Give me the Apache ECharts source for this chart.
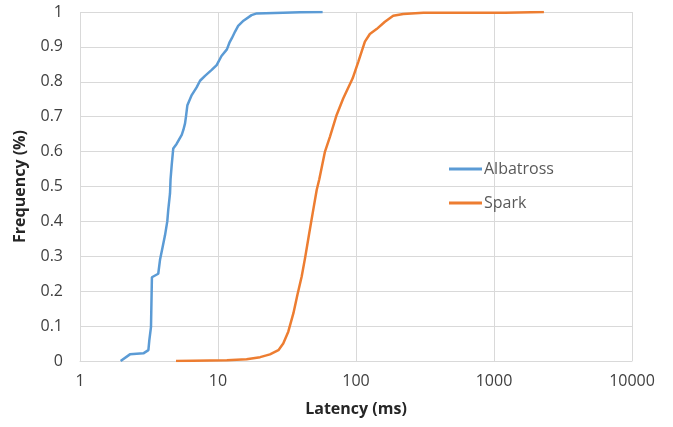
<!DOCTYPE html>
<html>
<head>
<meta charset="utf-8">
<script src="https://cdn.jsdelivr.net/npm/echarts@6/dist/echarts.min.js"></script>
<style>html,body{margin:0;padding:0;background:#fff}#c{width:673px;height:427px}</style>
</head>
<body>
<div id="c"></div>
<script>
var seriesNames = ['Albatross', 'Spark'];
var albatrossLatency = [1.97, 2.30, 2.88, 3.13, 3.18, 3.27, 3.30, 3.32, 3.69, 3.80, 3.97, 4.13, 4.29, 4.36, 4.49, 4.53, 4.62, 4.74, 5.01, 5.46, 5.61, 5.77, 5.86, 6.0, 6.45, 7.0, 7.41, 8.05, 9.0, 9.78, 10.6, 11.6, 12.1, 12.6, 13.3, 14.0, 15.3, 17.5, 19.1, 29.7, 39.3, 57.3];
var albatrossFreq = [0, 0.019, 0.022, 0.031, 0.06, 0.098, 0.098, 0.24, 0.25, 0.29, 0.327, 0.36, 0.40, 0.433, 0.48, 0.52, 0.562, 0.609, 0.622, 0.648, 0.662, 0.681, 0.70, 0.733, 0.762, 0.784, 0.803, 0.817, 0.834, 0.848, 0.874, 0.893, 0.912, 0.925, 0.944, 0.960, 0.975, 0.991, 0.996, 0.998, 0.999, 1.0];
var sparkLatency = [4.96, 11.6, 16.1, 20.2, 23.8, 27.4, 29.7, 32.3, 35.2, 37.6, 40.4, 42.7, 45.6, 48.5, 51.9, 54.2, 59.6, 64.8, 72.4, 80.9, 94.6, 104, 116, 126, 141, 162, 186, 220, 308, 1200, 1205, 2300];
var sparkFreq = [0, 0.002, 0.005, 0.011, 0.019, 0.031, 0.05, 0.084, 0.137, 0.189, 0.242, 0.294, 0.361, 0.423, 0.49, 0.521, 0.60, 0.643, 0.705, 0.753, 0.81, 0.858, 0.915, 0.937, 0.951, 0.972, 0.989, 0.994, 0.998, 0.998, 1.0, 1.0];
var xTicks = [1, 10, 100, 1000, 10000];
var yTicks = [0, 0.1, 0.2, 0.3, 0.4, 0.5, 0.6, 0.7, 0.8, 0.9, 1];

function pairs(xs, ys) { return xs.map(function (x, i) { return [x, ys[i]]; }); }

var chart = echarts.init(document.getElementById('c'), null, {renderer: 'canvas'});
var font = 'Open Sans';
chart.setOption({
  animation: false,
  backgroundColor: '#ffffff',
  grid: {left: 80, right: 41, top: 12, bottom: 66, containLabel: false},
  legend: {
    orient: 'vertical', left: 444, top: 154,
    data: seriesNames.map(function (n) { return {name: n, icon: 'rect'}; }),
    itemWidth: 33, itemHeight: 3, itemGap: 14,
    textStyle: {color: '#595959', fontFamily: font, fontSize: 16, lineHeight: 20, padding: [0, 0, 0, -3]}
  },
  xAxis: {
    type: 'log', logBase: 10, min: xTicks[0], max: xTicks[xTicks.length - 1],
    name: 'Latency (ms)', nameLocation: 'middle', nameGap: 40,
    nameTextStyle: {color: '#262626', fontFamily: font, fontSize: 16, fontWeight: 'bold'},
    axisLine: {show: true, lineStyle: {color: '#D9D9D9', width: 1}},
    axisTick: {show: false},
    axisLabel: {color: '#404040', fontFamily: font, fontSize: 16, margin: 12, formatter: function (v) { return String(Math.round(v)); }},
    splitLine: {show: true, lineStyle: {color: '#D9D9D9', width: 1}},
    minorTick: {show: false}, minorSplitLine: {show: false}
  },
  yAxis: {
    type: 'value', min: yTicks[0], max: yTicks[yTicks.length - 1], interval: 0.1,
    name: 'Frequency (%)', nameLocation: 'middle', nameGap: 52, nameRotate: 90,
    nameTextStyle: {color: '#262626', fontFamily: font, fontSize: 16, fontWeight: 'bold'},
    axisLine: {show: false}, axisTick: {show: false},
    axisLabel: {color: '#404040', fontFamily: font, fontSize: 16, margin: 17, formatter: function (v) { return String(Math.round(v * 10) / 10); }},
    splitLine: {show: true, lineStyle: {color: '#D9D9D9', width: 1}}
  },
  series: [
    {name: seriesNames[0], type: 'line', data: pairs(albatrossLatency, albatrossFreq), showSymbol: false, symbol: 'none',
     lineStyle: {color: '#5B9BD5', width: 2.5}, itemStyle: {color: '#5B9BD5'}},
    {name: seriesNames[1], type: 'line', data: pairs(sparkLatency, sparkFreq), showSymbol: false, symbol: 'none',
     lineStyle: {color: '#ED7D31', width: 2.5}, itemStyle: {color: '#ED7D31'}}
  ]
});
</script>
</body>
</html>
